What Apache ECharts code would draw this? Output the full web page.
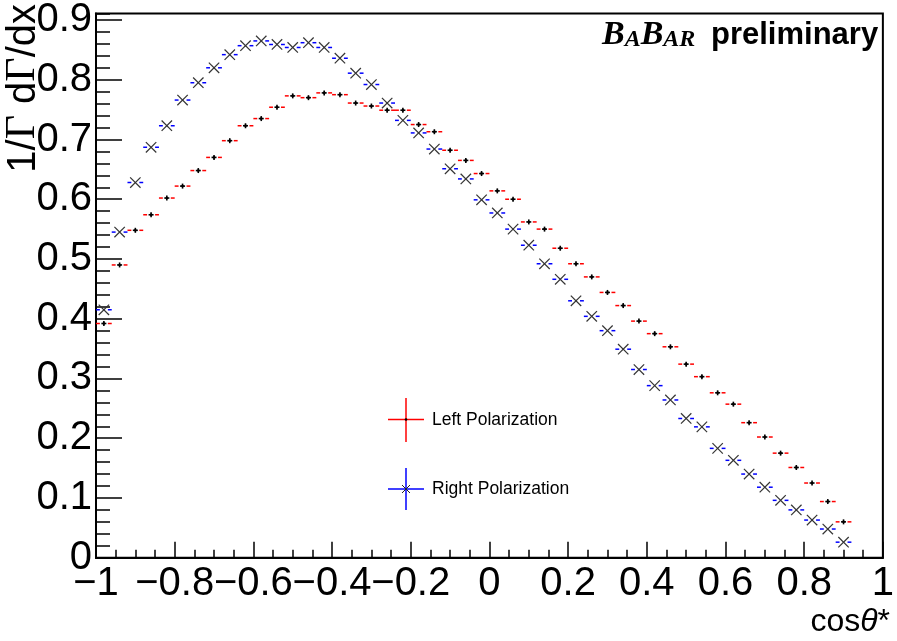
<!DOCTYPE html>
<html><head><meta charset="utf-8">
<script src="https://cdn.jsdelivr.net/npm/echarts@6/dist/echarts.min.js"></script>
<style>html,body{margin:0;padding:0;background:#fff}#c{width:897px;height:641px}</style>
</head><body><div id="c"></div>
<script>
// ---- data ----
const binCenters = [-0.98,-0.94,-0.90,-0.86,-0.82,-0.78,-0.74,-0.70,-0.66,-0.62,-0.58,-0.54,-0.50,-0.46,-0.42,-0.38,
  -0.34,-0.30,-0.26,-0.22,-0.18,-0.14,-0.10,-0.06,-0.02,0.02,0.06,0.10,0.14,0.18,0.22,0.26,0.30,0.34,0.38,0.42,
  0.46,0.50,0.54,0.58,0.62,0.66,0.70,0.74,0.78,0.82,0.86,0.90];
const leftPol = [0.392,0.490,0.548,0.574,0.602,0.622,0.648,0.670,0.698,0.723,0.735,0.754,0.773,0.770,0.778,0.775,
  0.761,0.756,0.749,0.749,0.725,0.713,0.682,0.665,0.643,0.614,0.600,0.562,0.550,0.518,0.492,0.470,0.444,0.422,0.396,0.375,
  0.353,0.324,0.303,0.276,0.257,0.226,0.202,0.175,0.151,0.125,0.094,0.060];
const rightPol = [0.415,0.545,0.628,0.687,0.723,0.766,0.795,0.820,0.842,0.857,0.865,0.859,0.854,0.862,0.854,0.836,
  0.811,0.792,0.761,0.732,0.711,0.684,0.651,0.634,0.599,0.577,0.550,0.523,0.492,0.466,0.430,0.404,0.380,0.349,0.315,0.288,
  0.264,0.233,0.219,0.183,0.163,0.140,0.118,0.096,0.080,0.063,0.048,0.026];
const binHalfWidth = 0.02;
const seriesNames = ['Left Polarization', 'Right Polarization'];
const xTickValues = [-1,-0.8,-0.6,-0.4,-0.2,0,0.2,0.4,0.6,0.8,1];
const xTickLabels = ['\u22121','\u22120.8','\u22120.6','\u22120.4','\u22120.2','0','0.2','0.4','0.6','0.8','1'];
const yTickValues = [0,0.1,0.2,0.3,0.4,0.5,0.6,0.7,0.8,0.9];
const yTickLabels = ['0','0.1','0.2','0.3','0.4','0.5','0.6','0.7','0.8','0.9'];
const xTitle = 'cos';
const yTitleParts = ['1/', '\u0393', ' d', '\u0393', '/dx'];

// ---- chart ----
const SANS = 'Liberation Sans';
const chart = echarts.init(document.getElementById('c'), null, {renderer: 'canvas'});

function lookup(vals, labels, v) {
  let best = 0, bd = Infinity;
  vals.forEach((t, i) => { const d = Math.abs(t - v); if (d < bd) { bd = d; best = i; } });
  return bd < 1e-6 ? labels[best] : '';
}

function makeRender(kind) {
  return function (params, api) {
    const x = api.value(0), y = api.value(1);
    const c = api.coord([x, y]);
    const l = api.coord([x - binHalfWidth, y]);
    const r = api.coord([x + binHalfWidth, y]);
    const color = kind === 'L' ? '#ff0000' : '#0000ff';
    const gap = 4;
    const ch = [
      {type: 'line', shape: {x1: l[0], y1: c[1], x2: c[0] - gap, y2: c[1]}, style: {stroke: color, lineWidth: 1.5}},
      {type: 'line', shape: {x1: c[0] + gap, y1: c[1], x2: r[0], y2: c[1]}, style: {stroke: color, lineWidth: 1.5}}
    ];
    if (kind === 'L') {
      ch.push({type: 'line', shape: {x1: c[0] - 2.5, y1: c[1], x2: c[0] + 2.5, y2: c[1]}, style: {stroke: '#000', lineWidth: 1.6}});
      ch.push({type: 'line', shape: {x1: c[0], y1: c[1] - 2.5, x2: c[0], y2: c[1] + 2.5}, style: {stroke: '#000', lineWidth: 1.6}});
      ch.push({type: 'circle', shape: {cx: c[0], cy: c[1], r: 1.3}, style: {fill: '#000'}});
    } else {
      const s = 5.2;
      ch.push({type: 'line', shape: {x1: c[0] - s, y1: c[1] - s, x2: c[0] + s, y2: c[1] + s}, style: {stroke: '#333', lineWidth: 1.2}});
      ch.push({type: 'line', shape: {x1: c[0] - s, y1: c[1] + s, x2: c[0] + s, y2: c[1] - s}, style: {stroke: '#333', lineWidth: 1.2}});
    }
    return {type: 'group', children: ch};
  };
}

const yMax = 0.911;
const axisLineStyle = {color: '#000', width: 2};
const tickStyle = {color: '#000', width: 1.5};

const option = {
  backgroundColor: '#fff',
  animation: false,
  grid: {left: 96, right: 7, top: 4.5, bottom: 83.3, show: true, borderColor: '#000', borderWidth: 2, backgroundColor: 'transparent'},
  xAxis: {
    type: 'value', min: -1, max: 1, interval: 0.2,
    axisLine: {show: true, onZero: false, lineStyle: axisLineStyle},
    axisTick: {show: true, inside: true, length: 16, lineStyle: tickStyle},
    minorTick: {show: true, splitNumber: 4, length: 8, lineStyle: tickStyle},
    splitLine: {show: false},
    axisLabel: {show: true, showMinLabel: true, showMaxLabel: true, margin: 6, fontSize: 40, fontFamily: SANS, color: '#000',
      formatter: v => lookup(xTickValues, xTickLabels, v)}
  },
  yAxis: [{
    type: 'value', min: 0, max: yMax, interval: 0.1, position: 'left',
    axisLine: {show: true, onZero: false, lineStyle: axisLineStyle},
    axisTick: {show: true, inside: true, length: 26, lineStyle: tickStyle},
    splitLine: {show: false},
    axisLabel: {show: true, showMaxLabel: false, margin: 4, fontSize: 40, fontFamily: SANS, color: '#000',
      formatter: v => lookup(yTickValues, yTickLabels, v)}
  }, {
    type: 'value', min: 0, max: yMax, interval: 0.02, position: 'left', offset: 0,
    axisLine: {show: false, onZero: false},
    axisTick: {show: true, inside: true, length: 14, lineStyle: tickStyle},
    splitLine: {show: false},
    axisLabel: {show: false}
  }],
  series: [
    {name: seriesNames[0], type: 'custom', xAxisIndex: 0, yAxisIndex: 0, renderItem: makeRender('L'),
      data: binCenters.map((x, i) => [x, leftPol[i]])},
    {name: seriesNames[1], type: 'custom', xAxisIndex: 0, yAxisIndex: 0, renderItem: makeRender('R'),
      data: binCenters.map((x, i) => [x, rightPol[i]])}
  ],
  graphic: [
    // y axis title
    {type: 'text', x: 23, y: 4, rotation: Math.PI / 2,
      style: {text: '{s|' + yTitleParts[0] + '}{g|' + yTitleParts[1] + '}{s|' + yTitleParts[2] + '}{g|' + yTitleParts[3] + '}{s|' + yTitleParts[4] + '}',
        align: 'right', verticalAlign: 'middle',
        rich: {s: {fontFamily: SANS, fontSize: 40, fill: '#000', verticalAlign: 'bottom'},
               g: {fontFamily: 'Liberation Serif', fontSize: 42, fill: '#000', verticalAlign: 'bottom'}}}},
    // x axis title
    {type: 'text', x: 890, y: 622,
      style: {text: '{s|' + xTitle + '}{t|\u03B8}{s|*}', align: 'right', verticalAlign: 'middle',
        rich: {s: {fontFamily: SANS, fontSize: 32, fill: '#000', verticalAlign: 'bottom'},
               t: {fontFamily: SANS, fontStyle: 'italic', fontSize: 32, fill: '#000', verticalAlign: 'bottom'}}}},
    // BaBar label
    {type: 'text', x: 602, y: 35,
      style: {text: '{b|B}{a|A}{b|B}{a|AR}', align: 'left', verticalAlign: 'middle',
        rich: {b: {fontFamily: 'Liberation Serif', fontStyle: 'italic', fontWeight: 'bold', fontSize: 34, fill: '#000', verticalAlign: 'bottom'},
               a: {fontFamily: 'Liberation Serif', fontStyle: 'italic', fontWeight: 'bold', fontSize: 24, fill: '#000', verticalAlign: 'bottom'}}}},
    {type: 'text', x: 711, y: 35.5,
      style: {text: 'preliminary', fontFamily: SANS, fontWeight: 'bold', fontSize: 31, fill: '#000', align: 'left', verticalAlign: 'middle'}},
    // legend: left polarization
    {type: 'line', shape: {x1: 388, y1: 419.5, x2: 424, y2: 419.5}, style: {stroke: '#ff0000', lineWidth: 1.5}},
    {type: 'line', shape: {x1: 406, y1: 398, x2: 406, y2: 442}, style: {stroke: '#ff0000', lineWidth: 1.5}},
    {type: 'circle', shape: {cx: 406, cy: 419.5, r: 1.3}, style: {fill: '#000'}},
    {type: 'text', x: 432, y: 420, style: {text: seriesNames[0], fontFamily: SANS, fontSize: 17.5, fill: '#000', align: 'left', verticalAlign: 'middle'}},
    // legend: right polarization
    {type: 'line', shape: {x1: 388, y1: 489, x2: 424, y2: 489}, style: {stroke: '#0000ff', lineWidth: 1.5}},
    {type: 'line', shape: {x1: 406, y1: 468, x2: 406, y2: 510}, style: {stroke: '#0000ff', lineWidth: 1.5}},
    {type: 'line', shape: {x1: 402, y1: 485, x2: 410, y2: 493}, style: {stroke: '#222', lineWidth: 1}},
    {type: 'line', shape: {x1: 402, y1: 493, x2: 410, y2: 485}, style: {stroke: '#222', lineWidth: 1}},
    {type: 'text', x: 432, y: 489, style: {text: seriesNames[1], fontFamily: SANS, fontSize: 17.5, fill: '#000', align: 'left', verticalAlign: 'middle'}}
  ]
};
chart.setOption(option);
</script>
</body></html>
